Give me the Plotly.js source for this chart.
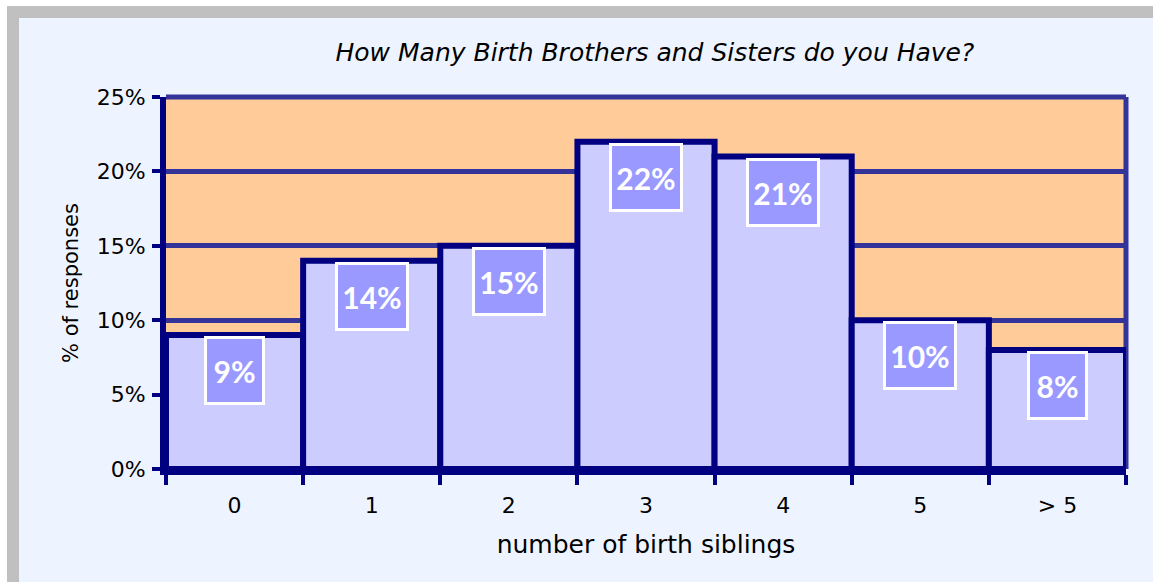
<!DOCTYPE html>
<html>
<head>
<meta charset="utf-8">
<script src="https://cdn.plot.ly/plotly-3.0.1.min.js"></script>
<style>
  html, body { margin:0; padding:0; background:#ffffff; overflow:hidden; width:1153px; height:582px; }
  #frame { position:absolute; left:7px; top:6px; width:1160px; height:590px; box-sizing:border-box;
           border:12px solid #c0c0c0; background:#eef4ff; }
  #chart { position:absolute; left:0; top:0; width:1153px; height:582px; }
</style>
</head>
<body>
<div id="frame"></div>
<div id="chart"></div>
<script>
const categories = ['0', '1', '2', '3', '4', '5', '> 5'];
const percentValues = [9, 14, 15, 22, 21, 10, 8];
const valueLabels = ['9%', '14%', '15%', '22%', '21%', '10%', '8%'];
const yTickValues = [0, 5, 10, 15, 20, 25];
const yTickLabels = ['0%', '5%', '10%', '15%', '20%', '25%'];

const FONT = '"DejaVu Sans", "Liberation Sans", sans-serif';
const LABEL_FONT = 'Lato, "DejaVu Sans", sans-serif';

const trace = {
  type: 'bar',
  x: categories,
  y: percentValues,
  width: 1,
  marker: { color: '#ccccff', line: { color: '#000080', width: 6 } },
  hoverinfo: 'skip'
};

const annotations = categories.map((c, i) => ({
  x: c, y: percentValues[i], xref: 'x', yref: 'y',
  text: valueLabels[i], showarrow: false,
  yanchor: 'top', yshift: -1,
  font: { family: LABEL_FONT, size: 30, color: '#ffffff', weight: 'bold' },
  bgcolor: '#9999ff', bordercolor: '#ffffff', borderwidth: 3,
  borderpad: 0, height: 63, width: valueLabels[i].length > 2 ? 68 : 55
}));

const layout = {
  width: 1153, height: 582,
  margin: { l: 166, r: 27, t: 97, b: 113 },
  paper_bgcolor: 'rgba(0,0,0,0)',
  plot_bgcolor: '#ffcc99',
  showlegend: false,
  bargap: 0,
  title: {
    text: 'How Many Birth Brothers and Sisters do you Have?',
    font: { family: FONT, size: 25, color: '#000000', style: 'italic' },
    x: 0.568, xanchor: 'center', y: 0.91, yanchor: 'middle'
  },
  xaxis: {
    type: 'category',
    tickson: 'boundaries',
    ticks: 'outside', ticklen: 10, tickwidth: 4, tickcolor: '#000080',
    ticklabelstandoff: 12,
    showline: true, linecolor: '#000080', linewidth: 6,
    showgrid: false,
    tickfont: { family: FONT, size: 22, color: '#000000' },
    title: { text: 'number of birth siblings', font: { family: FONT, size: 25, color: '#000000' }, standoff: 20 },
    automargin: false
  },
  yaxis: {
    range: [0, 25],
    tickvals: yTickValues, ticktext: yTickLabels,
    ticks: 'outside', ticklen: 8, tickwidth: 4, tickcolor: '#000080',
    ticklabelstandoff: 2,
    showline: true, linecolor: '#000080', linewidth: 6,
    showgrid: true, gridcolor: '#333399', gridwidth: 5,
    zeroline: false,
    tickfont: { family: FONT, size: 22, color: '#000000' },
    title: { text: '% of responses', font: { family: FONT, size: 21, color: '#000000' }, standoff: 14 },
    automargin: false
  },
  shapes: [
    { type: 'line', xref: 'paper', yref: 'paper', x0: 1, x1: 1, y0: 0, y1: 1,
      line: { color: '#333399', width: 5 }, layer: 'below' },
    { type: 'line', xref: 'paper', yref: 'paper', x0: 0, x1: 1, y0: 1, y1: 1,
      line: { color: '#333399', width: 5 }, layer: 'below' }
  ],
  annotations: annotations
};

Plotly.newPlot('chart', [trace], layout, { displayModeBar: false, staticPlot: true });
</script>
</body>
</html>
